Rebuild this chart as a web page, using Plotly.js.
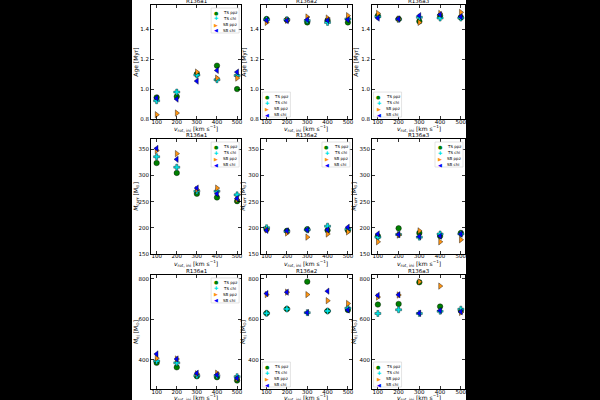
<!DOCTYPE html>
<html><head><meta charset="utf-8">
<script src="https://cdn.plot.ly/plotly-3.0.1.min.js"></script>
<style>
html,body{margin:0;padding:0;background:#000;width:600px;height:400px;overflow:hidden}
#plot{position:absolute;left:132px;top:0;width:334px;height:400px;background:#fff}
</style>
</head><body><div id="plot"></div>
<script>
// ---------------- data ----------------
const vrot = [100, 200, 300, 400, 500];
const stars = ['R136a1', 'R136a2', 'R136a3'];
const seriesNames = ['TS ppz', 'TS chi', 'SB ppz', 'SB chi'];
const xTickVals = [100, 200, 300, 400, 500];
const ageTicks = [0.8, 1.0, 1.2, 1.4];
const mcurTicks = [150, 200, 250, 300, 350];
const mejTicks = [400, 600, 800];

// rows per series: TS ppz, TS chi, SB ppz, SB chi
const ageA1 = [
  [0.944, 0.950, 1.100, 1.156, 1.000],
  [0.922, 0.980, 1.093, 1.062, 1.090],
  [0.829, 0.840, 1.113, 1.073, 1.073],
  [0.940, 0.933, 1.053, 1.124, 1.113]
];
const ageA2 = [
  [1.467, 1.460, 1.444, 1.458, 1.444],
  [1.462, 1.462, 1.456, 1.444, 1.467],
  [1.444, 1.458, 1.480, 1.473, 1.489],
  [1.458, 1.456, 1.462, 1.458, 1.462]
];
const ageA3 = [
  [1.489, 1.467, 1.451, 1.489, 1.478],
  [1.482, 1.465, 1.478, 1.473, 1.473],
  [1.504, 1.466, 1.444, 1.504, 1.511],
  [1.473, 1.467, 1.489, 1.496, 1.482]
];
const mcurA1 = [
  [324, 305, 265, 258, 251],
  [336, 316, 270, 270, 263],
  [348, 342, 273, 276, 254],
  [352, 331, 276, 265, 256]
];
const mcurA2 = [
  [197, 194, 197, 195, 195],
  [200, 193, 196, 203, 197],
  [196, 190, 182, 188, 192],
  [195, 194, 196, 196, 201]
];
const mcurA3 = [
  [184, 199, 190, 184, 190],
  [182, 187, 182, 188, 188],
  [173, 186, 194, 173, 177],
  [188, 187, 183, 184, 188]
];
const mejA1 = [
  [384, 362, 318, 313, 297],
  [393, 384, 321, 321, 316],
  [407, 403, 330, 333, 305],
  [428, 403, 333, 325, 308]
];
const mejA2 = [
  [629, 650, 785, 640, 645],
  [629, 650, 632, 640, 654],
  [721, 733, 721, 691, 677],
  [726, 733, 632, 738, 645]
];
const mejA3 = [
  [672, 675, 782, 662, 641],
  [628, 646, 628, 639, 649],
  [709, 719, 784, 763, 633],
  [717, 720, 629, 642, 636]
];

// ---------------- styles ----------------
const colors = ['#008000', '#00e5e5', '#ff9410', '#0000ff'];
const symbols = ['circle', 'cross', 'triangle-right', 'triangle-left'];
const glyphs = ['\u25CF', '\u271A', '\u25B6', '\u25C0'];
const FONT = 'DejaVu Sans, sans-serif';

const panels = [
  {data: ageA1, row: 0, col: 0, leg: 'ur'},
  {data: ageA2, row: 0, col: 1, leg: 'll'},
  {data: ageA3, row: 0, col: 2, leg: 'll'},
  {data: mcurA1, row: 1, col: 0, leg: 'ur'},
  {data: mcurA2, row: 1, col: 1, leg: 'ur'},
  {data: mcurA3, row: 1, col: 2, leg: 'ur'},
  {data: mejA1, row: 2, col: 0, leg: 'ur'},
  {data: mejA2, row: 2, col: 1, leg: 'll'},
  {data: mejA3, row: 2, col: 2, leg: 'll'}
];
const rowCfg = [
  {range: [0.8, 1.56], ticks: ageTicks, fmt: '.1f', title: 'Age [Myr]'},
  {range: [150, 370], ticks: mcurTicks, fmt: 'd', title: '<i>M</i><sub>curr</sub> [M<sub>\u2299</sub>]'},
  {range: [255, 818], ticks: mejTicks, fmt: 'd', title: '<i>M</i><sub>ej</sub> [M<sub>\u2299</sub>]'}
];
const xTitle = '<i>v</i><sub>rot, ini</sub> [km s<sup>\u22121</sup>]';
const xDomains = [[0, 0.287], [0.350, 0.640], [0.704, 1]];
const yDomains = [[0.703, 1], [0.352, 0.651], [0, 0.297]];
const W = 334, H = 400, M = {l: 19, r: 1, t: 5, b: 11};
const PW = W - M.l - M.r, PH = H - M.t - M.b;

const traces = [];
const layout = {
  width: W, height: H, margin: M,
  paper_bgcolor: '#fff', plot_bgcolor: '#fff',
  showlegend: false,
  font: {family: FONT, size: 5.5, color: '#000'},
  annotations: [], shapes: []
};

panels.forEach((p, k) => {
  const n = k + 1;
  const xs = n === 1 ? '' : String(n);
  const xa = 'x' + xs, ya = 'y' + xs;
  const rc = rowCfg[p.row];
  p.data.forEach((vals, s) => {
    traces.push({
      type: 'scatter', mode: 'markers', x: vrot, y: vals, name: seriesNames[s],
      xaxis: xa, yaxis: ya,
      marker: {color: colors[s], symbol: symbols[s], size: s === 1 ? 5 : 5.5, line: {color: '#000', width: 0.4}}
    });
  });
  const common = {
    showline: true, linecolor: '#000', linewidth: 1, mirror: 'allticks',
    ticks: 'inside', ticklen: 3, tickwidth: 0.8, tickcolor: '#000',
    showgrid: false, zeroline: false, tickfont: {size: 5.5, family: FONT, color: '#000'},
    ticklabeloverflow: 'allow'
  };
  layout['xaxis' + xs] = Object.assign({}, common, {
    domain: xDomains[p.col], anchor: ya, range: [72, 520],
    tickmode: 'array', tickvals: xTickVals, ticklabelstandoff: -3
  });
  layout['yaxis' + xs] = Object.assign({}, common, {
    domain: yDomains[p.row], anchor: xa, range: rc.range,
    tickmode: 'array', tickvals: rc.ticks, tickformat: rc.fmt,
    title: {text: rc.title, font: {size: 6, color: '#000'}, standoff: 2}
  });
  // x axis title
  layout.annotations.push({
    text: xTitle, xref: xa + ' domain', yref: ya + ' domain', x: 0.5, y: 0,
    xanchor: 'center', yanchor: 'middle', yshift: p.row === 2 ? -8.5 : -9.5, showarrow: false,
    font: {size: 6, family: FONT, color: '#000'}
  });
  // panel title
  layout.annotations.push({
    text: stars[p.col], xref: xa + ' domain', yref: ya + ' domain', x: 0.5, y: 1,
    xanchor: 'center', yanchor: 'bottom', showarrow: false, yshift: -1,
    font: {size: 5.5, family: FONT, color: '#000'}
  });
  // legend box
  const pw = (xDomains[p.col][1] - xDomains[p.col][0]) * PW;
  const ph = (yDomains[p.row][1] - yDomains[p.row][0]) * PH;
  const bw = 28, bh = 25;
  let x0, x1, y0, y1;
  if (p.leg === 'ur') {
    x1 = 1 - 2 / pw; x0 = x1 - bw / pw; y1 = 1 - 3 / ph; y0 = y1 - bh / ph;
  } else {
    x0 = 1.5 / pw; x1 = x0 + bw / pw; y0 = 2 / ph; y1 = y0 + bh / ph;
  }
  layout.shapes.push({
    type: 'rect', xref: xa + ' domain', yref: ya + ' domain', x0, x1, y0, y1,
    line: {color: '#d0d0d0', width: 0.6}, fillcolor: 'rgba(255,255,255,0.85)', layer: 'above'
  });
  seriesNames.forEach((nm, s) => {
    const yy = y1 - (4.5 + 6 * s) / ph;
    layout.annotations.push({
      text: glyphs[s], xref: xa + ' domain', yref: ya + ' domain',
      x: x0 + 5 / pw, y: yy, xanchor: 'center', yanchor: 'middle', showarrow: false,
      font: {size: 5, color: colors[s], family: 'DejaVu Sans'}
    });
    layout.annotations.push({
      text: nm, xref: xa + ' domain', yref: ya + ' domain',
      x: x0 + 10 / pw, y: yy, xanchor: 'left', yanchor: 'middle', showarrow: false,
      font: {size: 4, color: '#000', family: FONT}
    });
  });
});

Plotly.newPlot('plot', traces, layout, {displayModeBar: false, staticPlot: true});
</script>
</body></html>
